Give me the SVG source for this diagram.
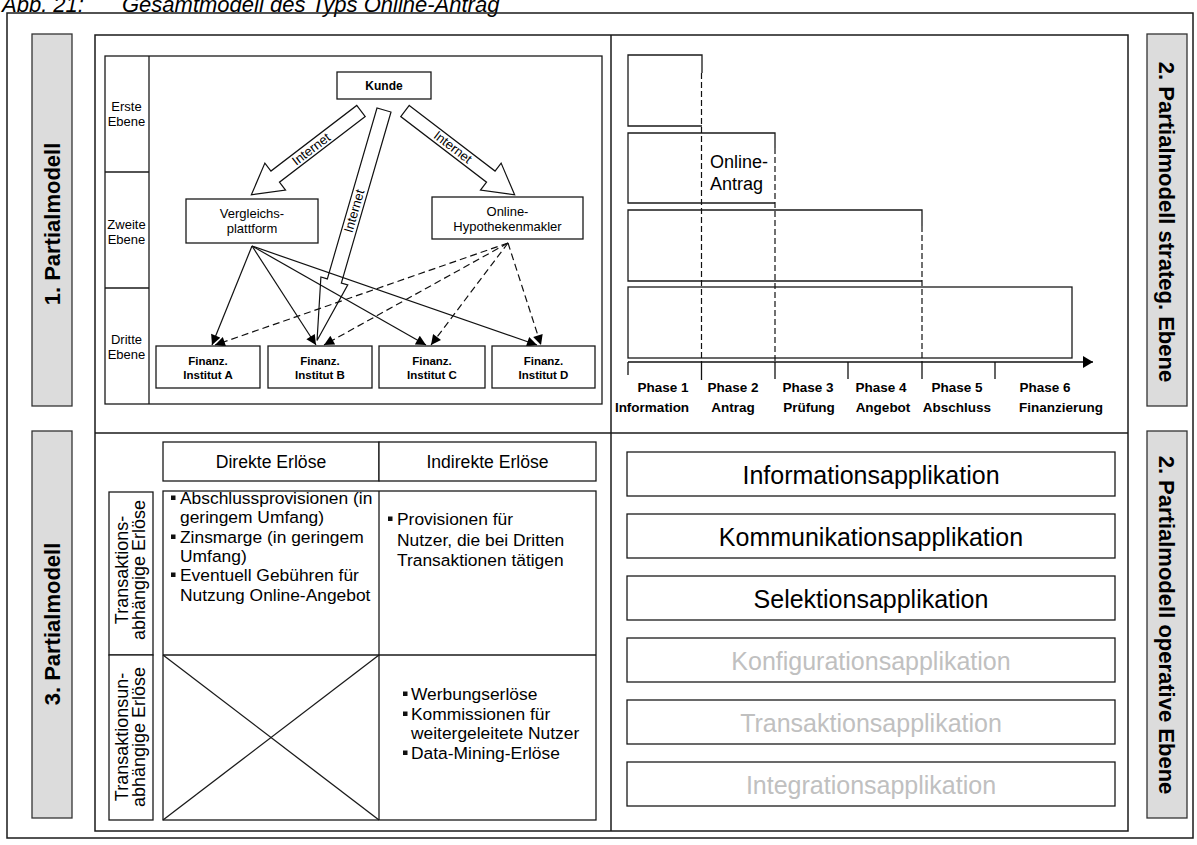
<svg xmlns="http://www.w3.org/2000/svg" width="1197" height="845" viewBox="0 0 1197 845">
  <style>
    text { font-family: "Liberation Sans", Arial, sans-serif; fill: #000; }
    .frame { fill: none; stroke: #1a1a1a; stroke-width: 1.5; }
    .box { fill: #fff; stroke: #1a1a1a; stroke-width: 1.3; }
    .open { fill: none; stroke: #1a1a1a; stroke-width: 1.3; }
    .side { fill: #dcdcdc; stroke: #333; stroke-width: 1.3; }
    .side-t { font-weight: bold; font-size: 22px; text-anchor: middle; }
    .lvl { font-size: 13px; text-anchor: middle; }
    .nd { font-size: 13px; text-anchor: middle; }
    .kd { font-size: 12px; font-weight: bold; text-anchor: middle; }
    .fi { font-size: 11.5px; font-weight: bold; text-anchor: middle; }
    .inet { font-size: 13px; text-anchor: middle; }
    .blk { fill: #fff; stroke: #111; stroke-width: 1.2; stroke-linejoin: miter; }
    .ln { stroke: #111; stroke-width: 1.2; fill: none; marker-end: url(#ah); }
    .dl { stroke-dasharray: 7 4; }
    .vd { stroke: #111; stroke-width: 1.2; stroke-dasharray: 6 3; fill: none; }
    .tick { stroke: #111; stroke-width: 1.3; fill: none; }
    .ph { font-size: 13.5px; font-weight: bold; text-anchor: middle; }
    .cell { font-size: 17.4px; }
    .hd { font-size: 17.6px; text-anchor: middle; }
    .rl { font-size: 18px; text-anchor: middle; }
    .bul { fill: #111; }
    .app { font-size: 25px; text-anchor: middle; }
    .off { fill: #c0c0c0; }
    .cap { font-size: 22px; font-style: italic; }
  </style>
  <defs>
    <marker id="ah" viewBox="0 0 10 10" refX="10" refY="5" markerWidth="12" markerHeight="10" markerUnits="userSpaceOnUse" orient="auto">
      <path d="M0,0 L10,5 L0,10 z" fill="#000"/>
    </marker>
    <marker id="axhead" viewBox="0 0 10 12" refX="10" refY="6" markerWidth="10" markerHeight="12" markerUnits="userSpaceOnUse" orient="auto">
      <path d="M0,0 L10,6 L0,12 z" fill="#000"/>
    </marker>
    <path id="blkShort" d="M0,-7 L108,-7 L108,-17 L138,0 L108,17 L108,7 L0,7 Z"/>
    <path id="blkLong" d="M0,-7.3 L178,-7.3 L178,-14 L240,0 L178,14 L178,7.3 L0,7.3 Z"/>
  </defs>

  <!-- caption -->
  <text class="cap" x="2" y="12">Abb. 21:</text>
  <text class="cap" x="122" y="12">Gesamtmodell des Typs Online-Antrag</text>

  <!-- outer and inner frames -->
  <rect class="frame" x="7" y="13" width="1186" height="825"/>
  <rect class="frame" x="95" y="35" width="1033" height="796"/>
  <line class="frame" x1="611" y1="35" x2="611" y2="831"/>
  <line class="frame" x1="95" y1="433" x2="1128" y2="433"/>

  <!-- side labels -->
  <g id="label-pm1">
    <rect class="side" x="32" y="34" width="40" height="372"/>
    <text class="side-t" transform="translate(59.5,224) rotate(-90)">1. Partialmodell</text>
  </g>
  <g id="label-pm3">
    <rect class="side" x="32" y="431" width="40" height="387"/>
    <text class="side-t" transform="translate(59.5,624) rotate(-90)">3. Partialmodell</text>
  </g>
  <g id="label-pm2-strat">
    <rect class="side" x="1147" y="34" width="40" height="372"/>
    <text class="side-t" transform="translate(1159,222) rotate(90)">2. Partialmodell strateg. Ebene</text>
  </g>
  <g id="label-pm2-op">
    <rect class="side" x="1147" y="431" width="40" height="387"/>
    <text class="side-t" transform="translate(1159,625) rotate(90)">2. Partialmodell operative Ebene</text>
  </g>

  <!-- ===== Partialmodell 1: actors and levels ===== -->
  <g id="levels">
    <rect class="box" x="105" y="56" width="497" height="348"/>
    <line class="open" x1="149" y1="56" x2="149" y2="404"/>
    <line class="open" x1="105" y1="172" x2="149" y2="172"/>
    <line class="open" x1="105" y1="288" x2="149" y2="288"/>
    <text class="lvl" x="126.5" y="111">Erste</text>
    <text class="lvl" x="126.5" y="126">Ebene</text>
    <text class="lvl" x="126.5" y="229">Zweite</text>
    <text class="lvl" x="126.5" y="244">Ebene</text>
    <text class="lvl" x="126.5" y="344">Dritte</text>
    <text class="lvl" x="126.5" y="359">Ebene</text>
  </g>

  <!-- Internet channels (block arrows) -->
  <g id="channels">
    <use href="#blkShort" class="blk" transform="translate(361,111) rotate(142.6)"/>
    <use href="#blkShort" class="blk" transform="translate(405,111) rotate(37.4)"/>
    <use href="#blkLong" class="blk" transform="translate(384,110) rotate(106.2)"/>
    <text class="inet" transform="translate(311,149) rotate(-37.4)" dy="0.35em">Internet</text>
    <text class="inet" transform="translate(453,147) rotate(37.4)" dy="0.35em">Internet</text>
    <text class="inet" transform="translate(354,211) rotate(-73.8)" dy="0.35em">Internet</text>
  </g>

  <g id="connectors">
    <line class="ln" x1="252" y1="246" x2="212" y2="345"/>
    <line class="ln" x1="252" y1="246" x2="316" y2="345"/>
    <line class="ln" x1="252" y1="246" x2="426" y2="345"/>
    <line class="ln" x1="252" y1="246" x2="537" y2="345"/>
    <line class="ln dl" x1="508" y1="243" x2="215" y2="345"/>
    <line class="ln dl" x1="508" y1="243" x2="324" y2="345"/>
    <line class="ln dl" x1="508" y1="243" x2="431" y2="345"/>
    <line class="ln dl" x1="508" y1="243" x2="541" y2="345"/>
  </g>

  <g id="kunde">
    <rect class="box" x="337" y="72" width="94" height="27"/>
    <text class="kd" x="384" y="90">Kunde</text>
  </g>
  <g id="vergleichsplattform">
    <rect class="box" x="186" y="199" width="132" height="44"/>
    <text class="nd" x="252" y="218">Vergleichs-</text>
    <text class="nd" x="252" y="233">plattform</text>
  </g>
  <g id="hypothekenmakler">
    <rect class="box" x="432" y="197" width="151" height="42"/>
    <text class="nd" x="507.5" y="216">Online-</text>
    <text class="nd" x="507.5" y="231">Hypothekenmakler</text>
  </g>
  <g id="institut-a">
    <rect class="box" x="156" y="346" width="104" height="42"/>
    <text class="fi" x="208" y="365">Finanz.</text>
    <text class="fi" x="208" y="379">Institut A</text>
  </g>
  <g id="institut-b">
    <rect class="box" x="268" y="346" width="104" height="42"/>
    <text class="fi" x="320" y="365">Finanz.</text>
    <text class="fi" x="320" y="379">Institut B</text>
  </g>
  <g id="institut-c">
    <rect class="box" x="379" y="346" width="106" height="42"/>
    <text class="fi" x="432" y="365">Finanz.</text>
    <text class="fi" x="432" y="379">Institut C</text>
  </g>
  <g id="institut-d">
    <rect class="box" x="492" y="346" width="103" height="42"/>
    <text class="fi" x="543.5" y="365">Finanz.</text>
    <text class="fi" x="543.5" y="379">Institut D</text>
  </g>

  <!-- ===== Partialmodell 2, strategic level: phases ===== -->
  <g id="phase-bars">
    <path class="open" d="M702,73 L702,55 L628,55 L628,126 L702,126"/>
    <path class="open" d="M775,148 L775,133 L628,133 L628,203 L775,203"/>
    <path class="open" d="M922,226 L922,210 L628,210 L628,281 L922,281"/>
    <rect class="open" x="628" y="287" width="444" height="71"/>
    <text x="710" y="168" font-size="18">Online-</text>
    <text x="710" y="190" font-size="18">Antrag</text>
  </g>
  <g id="phase-axis">
    <line class="vd" x1="701.5" y1="73" x2="701.5" y2="362"/>
    <line class="vd" x1="775" y1="148" x2="775" y2="362"/>
    <line class="vd" x1="922" y1="226" x2="922" y2="362"/>
    <line class="tick" x1="628" y1="362" x2="1093" y2="362" marker-end="url(#axhead)"/>
    <line class="tick" x1="628" y1="362" x2="628" y2="375"/>
    <line class="tick" x1="701.5" y1="362" x2="701.5" y2="380"/>
    <line class="tick" x1="775" y1="362" x2="775" y2="379"/>
    <line class="tick" x1="848" y1="362" x2="848" y2="379"/>
    <line class="tick" x1="922" y1="362" x2="922" y2="379"/>
    <line class="tick" x1="995" y1="362" x2="995" y2="379"/>
    <text class="ph" x="663" y="392">Phase 1</text>
    <text class="ph" x="652" y="412">Information</text>
    <text class="ph" x="733" y="392">Phase 2</text>
    <text class="ph" x="733" y="412">Antrag</text>
    <text class="ph" x="808" y="392">Phase 3</text>
    <text class="ph" x="809" y="412">Prüfung</text>
    <text class="ph" x="881" y="392">Phase 4</text>
    <text class="ph" x="883" y="412">Angebot</text>
    <text class="ph" x="957" y="392">Phase 5</text>
    <text class="ph" x="957" y="412">Abschluss</text>
    <text class="ph" x="1045" y="392">Phase 6</text>
    <text class="ph" x="1061" y="412">Finanzierung</text>
  </g>

  <!-- ===== Partialmodell 3: revenue table ===== -->
  <g id="revenue-table">
    <rect class="box" x="163" y="442" width="216" height="39"/>
    <rect class="box" x="379" y="442" width="217" height="39"/>
    <text class="hd" x="271" y="468">Direkte Erlöse</text>
    <text class="hd" x="487.5" y="468">Indirekte Erlöse</text>

    <rect class="box" x="163" y="491" width="433" height="329"/>
    <line class="open" x1="379" y1="491" x2="379" y2="820"/>
    <line class="open" x1="163" y1="655" x2="596" y2="655"/>
    <line class="open" x1="163" y1="655" x2="379" y2="820"/>
    <line class="open" x1="379" y1="655" x2="163" y2="820"/>

    <rect class="box" x="109" y="492" width="44" height="163"/>
    <rect class="box" x="109" y="655" width="44" height="165"/>
    <text class="rl" transform="translate(128,570) rotate(-90)">Transaktions-</text>
    <text class="rl" transform="translate(145,570) rotate(-90)">abhängige Erlöse</text>
    <text class="rl" transform="translate(128,737) rotate(-90)">Transaktionsun-</text>
    <text class="rl" transform="translate(145,737) rotate(-90)">abhängige Erlöse</text>

    <rect class="bul" x="171" y="495.5" width="4.5" height="4.5"/>
    <rect class="bul" x="171" y="534.5" width="4.5" height="4.5"/>
    <rect class="bul" x="171" y="572.5" width="4.5" height="4.5"/>
    <text class="cell" x="180" y="504">Abschlussprovisionen (in</text>
    <text class="cell" x="180" y="523">geringem Umfang)</text>
    <text class="cell" x="180" y="543">Zinsmarge (in geringem</text>
    <text class="cell" x="180" y="562">Umfang)</text>
    <text class="cell" x="180" y="581">Eventuell Gebühren für</text>
    <text class="cell" x="180" y="601">Nutzung Online-Angebot</text>

    <rect class="bul" x="388" y="516.5" width="4.5" height="4.5"/>
    <text class="cell" x="397" y="525">Provisionen für</text>
    <text class="cell" x="397" y="546">Nutzer, die bei Dritten</text>
    <text class="cell" x="397" y="566">Transaktionen tätigen</text>

    <rect class="bul" x="403" y="691.5" width="4.5" height="4.5"/>
    <rect class="bul" x="403" y="711.5" width="4.5" height="4.5"/>
    <rect class="bul" x="403" y="750.5" width="4.5" height="4.5"/>
    <text class="cell" x="411" y="700">Werbungserlöse</text>
    <text class="cell" x="411" y="720">Kommissionen für</text>
    <text class="cell" x="411" y="739">weitergeleitete Nutzer</text>
    <text class="cell" x="411" y="759">Data-Mining-Erlöse</text>
  </g>

  <!-- ===== Partialmodell 2, operative level: applications ===== -->
  <g id="app-information">
    <rect class="box" x="627" y="452" width="488" height="44"/>
    <text class="app" x="871" y="484">Informationsapplikation</text>
  </g>
  <g id="app-kommunikation">
    <rect class="box" x="627" y="514" width="488" height="44"/>
    <text class="app" x="871" y="546">Kommunikationsapplikation</text>
  </g>
  <g id="app-selektion">
    <rect class="box" x="627" y="576" width="488" height="44"/>
    <text class="app" x="871" y="608">Selektionsapplikation</text>
  </g>
  <g id="app-konfiguration">
    <rect class="box" x="627" y="638" width="488" height="44"/>
    <text class="app off" x="871" y="670">Konfigurationsapplikation</text>
  </g>
  <g id="app-transaktion">
    <rect class="box" x="627" y="700" width="488" height="44"/>
    <text class="app off" x="871" y="732">Transaktionsapplikation</text>
  </g>
  <g id="app-integration">
    <rect class="box" x="627" y="762" width="488" height="44"/>
    <text class="app off" x="871" y="794">Integrationsapplikation</text>
  </g>
</svg>
